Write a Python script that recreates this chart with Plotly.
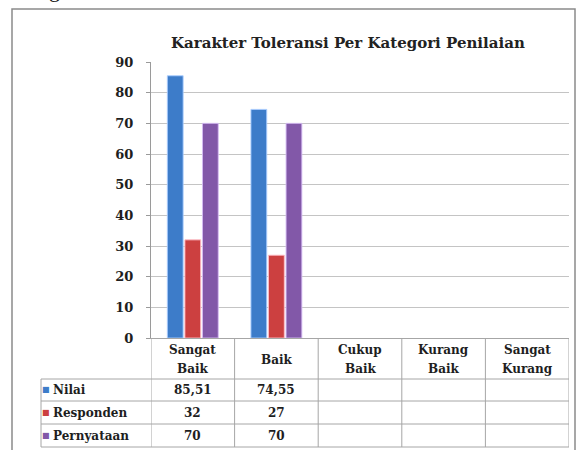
import plotly.graph_objects as go

# ---------------- data ----------------
categories = ["Sangat Baik", "Baik", "Cukup Baik", "Kurang Baik", "Sangat Kurang"]
header_lines = [["Sangat", "Baik"], ["Baik"], ["Cukup", "Baik"], ["Kurang", "Baik"], ["Sangat", "Kurang"]]
series_names = ["Nilai", "Responden", "Pernyataan"]
nilai = [85.51, 74.55, None, None, None]
responden = [32, 27, None, None, None]
pernyataan = [70, 70, None, None, None]
y_ticks = [0, 10, 20, 30, 40, 50, 60, 70, 80, 90]
title_text = "Karakter Toleransi Per Kategori Penilaian"

colors = ["#3d7cc9", "#cc4040", "#8258a8"]
glow = ["rgba(170,205,255,0.9)", "rgba(255,190,200,0.9)", "rgba(215,190,245,0.9)"]

# ---------------- layout geometry (pixels) ----------------
W, H = 583, 450
L, R, T, B = 151, 569, 62, 338
PW, PH = R - L, B - T


def px(xp):
    return (xp - L) / PW


def py(yp):
    return (B - yp) / PH


FONT = "DejaVu Serif"
TXT = "#1e1e1e"
LINE = "#a6a6a6"

fig = go.Figure()
series_vals = [nilai, responden, pernyataan]
for name, vals, c, g in zip(series_names, series_vals, colors, glow):
    fig.add_trace(go.Bar(
        x=categories, y=vals, name=name,
        marker=dict(color=c, line=dict(color=g, width=1)),
        hoverinfo="x+y+name",
    ))

shapes = []
annotations = []

# outer chart border
shapes.append(dict(type="rect", xref="paper", yref="paper",
                   x0=px(12), x1=px(575), y0=py(460), y1=py(9),
                   line=dict(color="#8a8a8a", width=1.5), layer="below"))

# data table rows (pixel y boundaries)
row_bounds = [379, 401, 424, 447]
row_centers = [389.5, 412.5, 435.5]
for yb in row_bounds:
    shapes.append(dict(type="line", xref="paper", yref="paper",
                       x0=px(41), x1=1, y0=py(yb), y1=py(yb),
                       line=dict(color=LINE, width=1)))
# legend column left edge
shapes.append(dict(type="line", xref="paper", yref="paper",
                   x0=px(41), x1=px(41), y0=py(379), y1=py(447),
                   line=dict(color=LINE, width=1)))
# column separators (category boundaries through the axis scale)
for i in range(len(categories) + 1):
    shapes.append(dict(type="line", xref="x", yref="paper",
                       x0=i - 0.5, x1=i - 0.5, y0=0, y1=py(447),
                       line=dict(color=LINE, width=1)))

# header labels
for i, lines in enumerate(header_lines):
    if len(lines) == 1:
        ys = [360]
    else:
        ys = [350, 369]
    for txt, yy in zip(lines, ys):
        annotations.append(dict(x=i, xref="x", y=py(yy), yref="paper",
                                text=txt, showarrow=False, xanchor="center", yanchor="middle",
                                font=dict(family=FONT, size=12, color=TXT, weight="bold")))


def fmt(v, decimals):
    if v is None:
        return ""
    if decimals:
        return f"{v:.2f}".replace(".", ",")
    return f"{v:d}"


decs = [True, False, False]
for r, (name, vals, c) in enumerate(zip(series_names, series_vals, colors)):
    yc = py(row_centers[r])
    annotations.append(dict(x=px(45.5), xref="paper", y=yc, yref="paper",
                            text="■", showarrow=False, xanchor="center", yanchor="middle",
                            font=dict(family=FONT, size=8, color=c)))
    annotations.append(dict(x=px(51), xref="paper", y=yc, yref="paper",
                            text=name, showarrow=False, xanchor="left", yanchor="middle",
                            font=dict(family=FONT, size=12, color=TXT, weight="bold")))
    for i, v in enumerate(vals):
        t = fmt(v, decs[r])
        if t:
            annotations.append(dict(x=i, xref="x", y=yc, yref="paper",
                                    text=t, showarrow=False, xanchor="center", yanchor="middle",
                                    font=dict(family=FONT, size=12, color=TXT, weight="bold")))

# title
annotations.append(dict(x=px(348), xref="paper", y=py(43), yref="paper",
                        text=title_text, showarrow=False, xanchor="center", yanchor="middle",
                        font=dict(family=FONT, size=15, color="#222222", weight="bold")))
# fragment of surrounding document text at the very top-left
annotations.append(dict(x=px(54), xref="paper", y=py(4), yref="paper",
                        text="g", showarrow=False, xanchor="center", yanchor="bottom",
                        font=dict(family="Liberation Serif", size=22, color="#111111")))

fig.update_layout(
    width=W, height=H,
    margin=dict(l=L, r=W - R, t=T, b=H - B, pad=0),
    paper_bgcolor="white", plot_bgcolor="white",
    barmode="group", bargap=0.37, bargroupgap=0.1,
    showlegend=False,
    shapes=shapes, annotations=annotations,
    xaxis=dict(type="category", range=[-0.5, len(categories) - 0.5],
               showticklabels=False, ticks="", showgrid=False,
               showline=True, linecolor=LINE, linewidth=1, zeroline=False, fixedrange=True),
    yaxis=dict(range=[0, 90], tickvals=y_ticks, ticks="outside", ticklen=4,
               tickcolor="#9a9a9a", showline=True, linecolor="#9a9a9a", linewidth=1,
               gridcolor="#c4c4c4", gridwidth=1, zeroline=False,
               ticklabelstandoff=10,
               tickfont=dict(family=FONT, size=13, color=TXT, weight="bold"), fixedrange=True),
)

fig.write_html("out.html",
               config={"displayModeBar": False},
               post_script="document.body.style.margin='0';document.body.style.overflow='hidden';")
